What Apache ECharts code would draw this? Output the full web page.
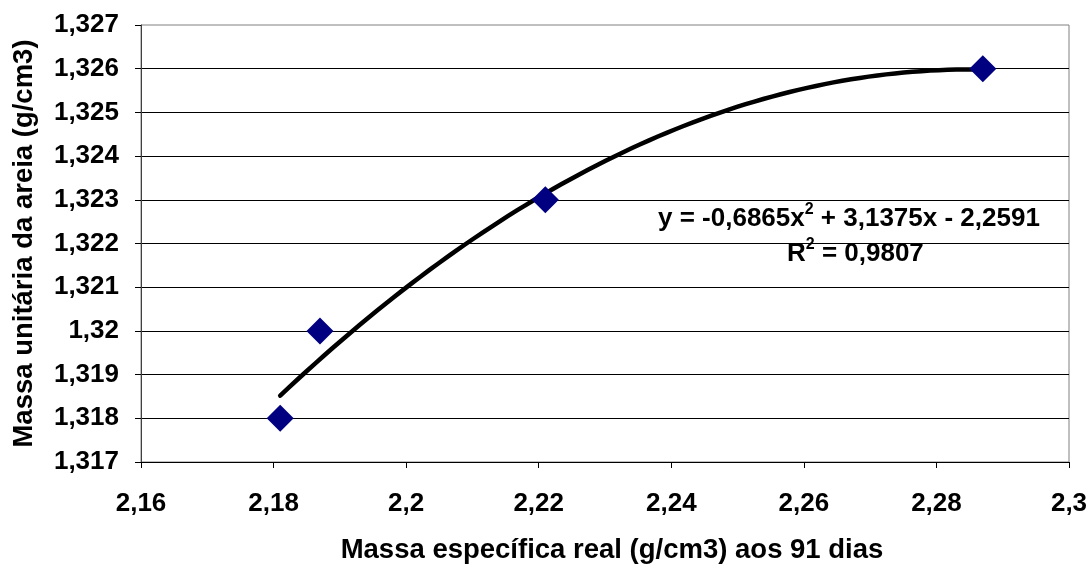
<!DOCTYPE html>
<html>
<head>
<meta charset="utf-8">
<script src="https://cdn.jsdelivr.net/npm/echarts@6/dist/echarts.min.js"></script>
<style>
  html, body { margin: 0; padding: 0; background: #fff; }
  #chart { width: 1091px; height: 569px; }
</style>
</head>
<body>
<div id="chart"></div>
<script>
// Measured samples
const massaEspecifica = [2.181, 2.187, 2.221, 2.287];   // x, g/cm3 at 91 days
const massaUnitaria   = [1.318, 1.320, 1.323, 1.326];   // y, g/cm3

// Axis ranges and tick steps
const xAxisRange = { min: 2.16, max: 2.30, step: 0.02 };
const yAxisRange = { min: 1.317, max: 1.327, step: 0.001 };

// Trend line annotation
const equationParts = ['y = -0,6865x', '2', ' + 3,1375x - 2,2591'];
const r2Parts = ['R', '2', ' = 0,9807'];

const axisTitleX = 'Massa específica real (g/cm3) aos 91 dias';
const axisTitleY = 'Massa unitária da areia (g/cm3)';

// Least-squares quadratic fit of the samples (centered for stability)
function quadFit(xs, ys) {
  const x0 = xs.reduce((a, b) => a + b, 0) / xs.length;
  let s0 = 0, s1 = 0, s2 = 0, s3 = 0, s4 = 0, t0 = 0, t1 = 0, t2 = 0;
  xs.forEach((x, i) => {
    const u = x - x0, y = ys[i];
    s0 += 1; s1 += u; s2 += u * u; s3 += u * u * u; s4 += u * u * u * u;
    t0 += y; t1 += u * y; t2 += u * u * y;
  });
  // Solve 3x3 system by Cramer's rule
  const det = (m) => m[0][0] * (m[1][1] * m[2][2] - m[1][2] * m[2][1])
                   - m[0][1] * (m[1][0] * m[2][2] - m[1][2] * m[2][0])
                   + m[0][2] * (m[1][0] * m[2][1] - m[1][1] * m[2][0]);
  const A = [[s0, s1, s2], [s1, s2, s3], [s2, s3, s4]];
  const B = [t0, t1, t2];
  const D = det(A);
  const coef = [0, 1, 2].map(k => det(A.map((row, r) => row.map((v, c) => c === k ? B[r] : v))) / D);
  return (x) => { const u = x - x0; return coef[0] + coef[1] * u + coef[2] * u * u; };
}

const fit = quadFit(massaEspecifica, massaUnitaria);
const xLo = Math.min(...massaEspecifica), xHi = Math.max(...massaEspecifica);
const trend = [];
for (let i = 0; i <= 80; i++) {
  const x = xLo + (xHi - xLo) * i / 80;
  trend.push([x, fit(x)]);
}

const fmt = (v, d) => String(parseFloat(v.toFixed(d))).replace('.', ',');
const FONT = '"Liberation Sans", Arial, sans-serif';

const richText = {
  b: { fontFamily: FONT, fontWeight: 'bold', fontSize: 26, fill: '#000', lineHeight: 30, verticalAlign: 'bottom' },
  s: { fontFamily: FONT, fontWeight: 'bold', fontSize: 16, fill: '#000', lineHeight: 30, verticalAlign: 'top' }
};

const chart = echarts.init(document.getElementById('chart'), null, { renderer: 'canvas' });
chart.setOption({
  backgroundColor: '#ffffff',
  animation: false,
  grid: {
    left: 141, right: 22, top: 25, bottom: 102,
    show: true, borderColor: '#808080', borderWidth: 1, backgroundColor: 'transparent'
  },
  xAxis: {
    type: 'value',
    min: xAxisRange.min, max: xAxisRange.max, interval: xAxisRange.step,
    axisLine: { show: true, onZero: false, lineStyle: { color: '#000', width: 1 } },
    axisTick: { show: true, inside: false, length: 6, lineStyle: { color: '#000' } },
    splitLine: { show: false },
    axisLabel: {
      margin: 29, color: '#000', fontFamily: FONT, fontWeight: 'bold', fontSize: 26,
      formatter: (v) => fmt(v, 2)
    },
    name: axisTitleX, nameLocation: 'middle', nameGap: 74,
    nameTextStyle: { color: '#000', fontFamily: FONT, fontWeight: 'bold', fontSize: 27.5, padding: [0, 0, 0, 14] }
  },
  yAxis: {
    type: 'value',
    min: yAxisRange.min, max: yAxisRange.max, interval: yAxisRange.step,
    axisLine: { show: true, onZero: false, lineStyle: { color: '#404040', width: 1 } },
    axisTick: { show: true, inside: false, length: 6, lineStyle: { color: '#000' } },
    splitLine: { show: true, showMinLine: false, showMaxLine: false, lineStyle: { color: '#000', width: 1 } },
    axisLabel: {
      margin: 22, color: '#000', fontFamily: FONT, fontWeight: 'bold', fontSize: 26,
      formatter: (v) => fmt(v, 3)
    },
    name: axisTitleY, nameLocation: 'middle', nameGap: 103, nameRotate: 90,
    nameTextStyle: { color: '#000', fontFamily: FONT, fontWeight: 'bold', fontSize: 27.5 }
  },
  series: [
    {
      type: 'line',
      data: trend,
      showSymbol: false,
      smooth: false,
      lineStyle: { color: '#000', width: 4.5, cap: 'round', join: 'round' },
      z: 2
    },
    {
      type: 'scatter',
      data: massaEspecifica.map((x, i) => [x, massaUnitaria[i]]),
      symbol: 'diamond',
      symbolSize: [27, 27],
      itemStyle: { color: '#000080', opacity: 1 },
      z: 3
    }
  ],
  graphic: [
    {
      type: 'text', left: 658, top: 202, z: 10,
      style: {
        text: '{b|' + equationParts[0] + '}{s|' + equationParts[1] + '}{b|' + equationParts[2] + '}',
        rich: richText
      }
    },
    {
      type: 'text', left: 787, top: 237, z: 10,
      style: {
        text: '{b|' + r2Parts[0] + '}{s|' + r2Parts[1] + '}{b|' + r2Parts[2] + '}',
        rich: richText
      }
    }
  ]
});
</script>
</body>
</html>
